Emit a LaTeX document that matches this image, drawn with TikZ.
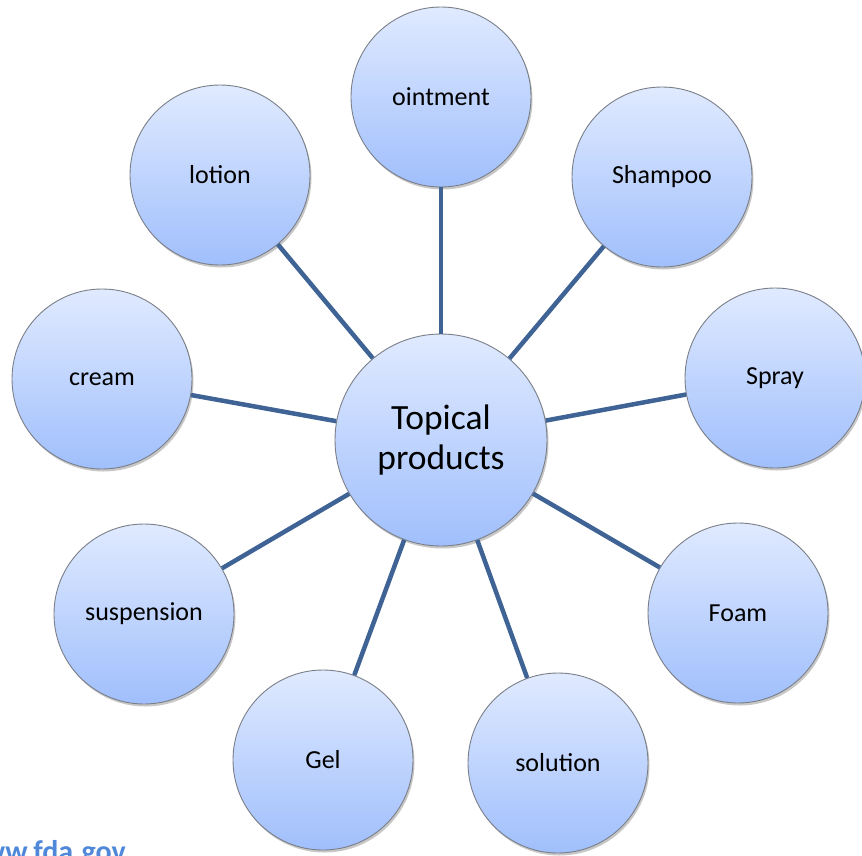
\documentclass[tikz,border=0pt]{standalone}
\usepackage{fontspec}
\setmainfont{Carlito}
\usetikzlibrary{shadows}
\definecolor{linkblue}{HTML}{3E6394}
\definecolor{topfill}{HTML}{E0EAFF}
\definecolor{botfill}{HTML}{A0BFFC}
\definecolor{rimgray}{HTML}{7A7F88}
\definecolor{urlblue}{HTML}{4F87D9}
\tikzset{
  bubble/.style={circle, draw=rimgray, line width=0.9pt, top color=topfill, bottom color=botfill,
    minimum size=180pt, inner sep=0pt, font=\fontsize{26}{31}\selectfont,
    drop shadow={shadow xshift=1.5pt, shadow yshift=-2.5pt, opacity=0.22, fill=black}},
  hub/.style={bubble, minimum size=212pt, font=\fontsize{35.5}{42}\selectfont, align=center},
  spoke/.style={draw=linkblue, line width=4.5pt}
}
\begin{document}
\begin{tikzpicture}[x=1pt,y=1pt]
\useasboundingbox (0,0) rectangle (862,-855);
\clip (0,0) rectangle (862,-855);
\node[hub] (c) at (441,-440) {Topical\\[-2pt]products};
\node[bubble] (oint) at (441,-97) {ointment};
\node[bubble] (sham) at (662,-177) {Shampoo};
\node[bubble] (spray) at (775,-378) {Spray};
\node[bubble] (foam) at (738,-613) {Foam};
\node[bubble] (sol) at (558,-763) {solution};
\node[bubble] (gel) at (323,-760) {Gel};
\node[bubble] (susp) at (144,-614) {suspension};
\node[bubble] (cream) at (102,-379) {cream};
\node[bubble] (lot) at (220,-175) {lotion};
\foreach \n in {oint,sham,spray,foam,sol,gel,susp,cream,lot}
  \draw[spoke] (c) -- (\n);
\node[anchor=base east, text=urlblue, font=\bfseries\fontsize{30}{36}\selectfont, inner sep=0pt] (url) at (126,-861) {www.fda.gov};
\end{tikzpicture}
\end{document}
